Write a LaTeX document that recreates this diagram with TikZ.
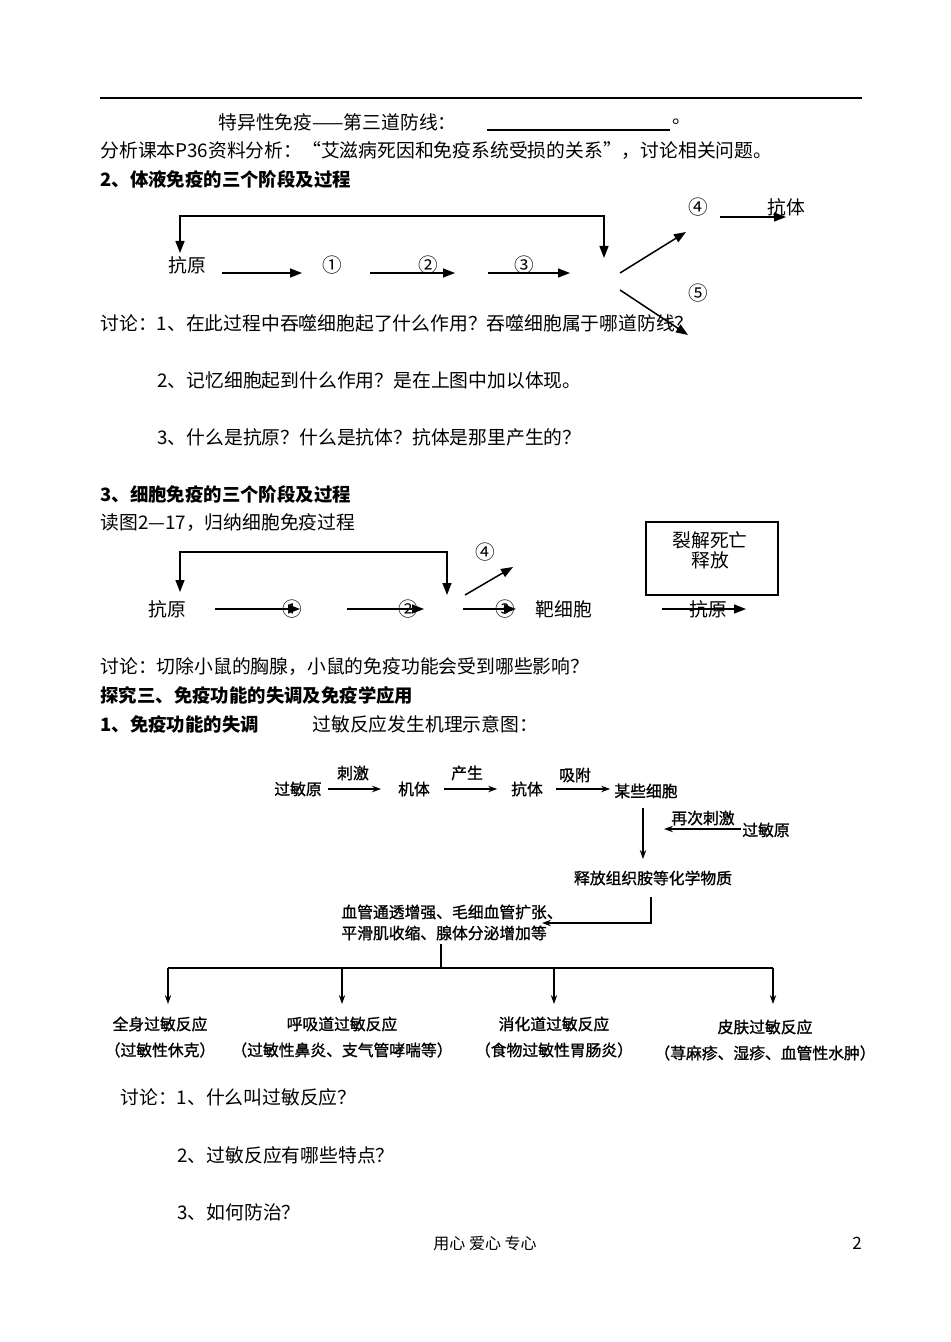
\documentclass[tikz,border=0pt]{standalone}
\usepackage{fontspec}
\setmainfont{Noto Sans CJK SC}
\newfontfamily\alfont[RawFeature={embolden=1.2}]{Noto Sans CJK SC}
\usetikzlibrary{arrows.meta}
\begin{document}
\begin{tikzpicture}[x=0.5pt,y=-0.5pt,
  body/.style={font=\fontsize{9.4}{11}\selectfont, inner sep=0pt, anchor=west},
  bodyc/.style={font=\fontsize{9.8}{11}\selectfont, inner sep=0pt},
  head/.style={font=\fontsize{9.2}{11}\selectfont\bfseries, inner sep=0pt, anchor=west},
  ar/.style={line width=0.75pt, -{Triangle[length=6pt,width=4.5pt]}},
  arb/.style={line width=0.75pt, {Triangle[length=6pt,width=4.5pt]}-{Triangle[length=6pt,width=4.5pt]}},
  al/.style={font=\alfont\fontsize{7.9}{10}\selectfont, inner sep=0pt},
  aar/.style={line width=0.65pt, -{Stealth[length=4.5pt,width=3.2pt]}},
  aln/.style={line width=0.65pt}]
\path[use as bounding box, fill=white] (0,0) rectangle (950,1342);

% top
\draw[line width=0.6pt] (100,98) -- (862,98);
\node[body] (t1) at (218,122) {特异性免疫——第三道防线：};
\coordinate (u1) at (487,130); \coordinate (u2) at (670,130);
\draw[line width=0.6pt] (u1) -- (u2);
\node[body] (t1b) at (672,122) {。};
\node[body] (t2) at (100,151) {分析课本P36资料分析：“艾滋病死因和免疫系统受损的关系”，讨论相关问题。};
\node[head] (h2) at (100,179) {2、体液免疫的三个阶段及过程};

% humoral diagram
\coordinate (hb1) at (180,253); \coordinate (hb2) at (180,216);
\coordinate (hb3) at (604,216); \coordinate (hb4) at (604,258);
\draw[arb] (hb1) -- (hb2) -- (hb3) -- (hb4);
\node[body] (hk) at (168,265) {抗原};
\node[bodyc] (h1) at (332,265) {①};
\node[bodyc] (h2n) at (428,265) {②};
\node[bodyc] (h3) at (524,265) {③};
\coordinate (ha1) at (222,273); \coordinate (ha1e) at (302,273);
\coordinate (ha2) at (370,273); \coordinate (ha2e) at (455,273);
\coordinate (ha3) at (488,273); \coordinate (ha3e) at (570,273);
\draw[ar] (ha1) -- (ha1e);
\draw[ar] (ha2) -- (ha2e);
\draw[ar] (ha3) -- (ha3e);
\coordinate (hd1) at (620,273); \coordinate (hd1e) at (686,232);
\coordinate (hd2) at (620,290); \coordinate (hd2e) at (688,335);
\draw[ar] (hd1) -- (hd1e);
\draw[ar] (hd2) -- (hd2e);
\node[bodyc] (h4) at (698,207) {④};
\node[body] (hkt) at (767,207) {抗体};
\coordinate (ha4) at (720,217); \coordinate (ha4e) at (786,217);
\draw[ar] (ha4) -- (ha4e);
\node[bodyc] (h5) at (698,293) {⑤};

\node[body] (d1) at (100,323) {讨论：1、在此过程中吞噬细胞起了什么作用？吞噬细胞属于哪道防线？};
\node[body] (d2) at (157,380) {2、记忆细胞起到什么作用？是在上图中加以体现。};
\node[body] (d3) at (157,437) {3、什么是抗原？什么是抗体？抗体是那里产生的？};

\node[head] (h3t) at (100,494) {3、细胞免疫的三个阶段及过程};
\node[body] (r1) at (100,523) {读图2—17，归纳细胞免疫过程};

% cellular diagram
\coordinate (cb1) at (180,592); \coordinate (cb2) at (180,552);
\coordinate (cb3) at (447,552); \coordinate (cb4) at (447,595);
\draw[arb] (cb1) -- (cb2) -- (cb3) -- (cb4);
\node[bodyc] (c4) at (485,552) {④};
\coordinate (cd1) at (465,595); \coordinate (cd1e) at (513,567);
\draw[ar] (cd1) -- (cd1e);
\node[body] (ck) at (148,609) {抗原};
\node[bodyc] (c1) at (292,609) {①};
\node[bodyc] (c2) at (408,609) {②};
\node[bodyc] (c3) at (505,609) {③};
\node[body] (cbx) at (535,609) {靶细胞};
\coordinate (ca1) at (215,609); \coordinate (ca1e) at (300,609);
\coordinate (ca2) at (347,609); \coordinate (ca2e) at (424,609);
\coordinate (ca3) at (463,609); \coordinate (ca3e) at (516,609);
\draw[ar] (ca1) -- (ca1e);
\draw[ar] (ca2) -- (ca2e);
\draw[ar] (ca3) -- (ca3e);
\node[draw, line width=0.6pt, minimum width=66pt, minimum height=36.5pt, inner sep=0pt] (box) at (712,558.5) {};
\node[bodyc, font=\fontsize{9.4}{11}\selectfont] (bx1) at (710,540) {裂解死亡};
\node[bodyc, font=\fontsize{9.4}{11}\selectfont] (bx2) at (710,560) {释放};
\node[bodyc, font=\fontsize{9.4}{11}\selectfont] (ck2) at (708,609) {抗原};
\coordinate (ca4) at (662,609); \coordinate (ca4e) at (746,609);
\draw[ar] (ca4) -- (ca4e);

\node[body] (d4) at (100,667) {讨论：切除小鼠的胸腺，小鼠的免疫功能会受到哪些影响？};
\node[head] (h4t) at (100,695) {探究三、免疫功能的失调及免疫学应用};
\node[head] (h5t) at (100,724) {1、免疫功能的失调};
\node[body] (h5b) at (312,724) {过敏反应发生机理示意图：};

% allergy diagram
\node[al] (g1) at (298,789) {过敏原};
\node[al] (jt) at (414,789) {机体};
\node[al] (kt) at (527,789) {抗体};
\node[al] (mx) at (646,791) {某些细胞};
\node[al] (l1) at (353,773) {刺激};
\node[al] (l2) at (467,773) {产生};
\node[al] (l3) at (575,775) {吸附};
\draw[aar] (g1.east) ++(6,0) coordinate (p1) -- ++(53,0) coordinate (p1e);
\draw[aar] (jt.east) ++(14,0) coordinate (p2) -- ++(53,0) coordinate (p2e);
\draw[aar] (kt.east) ++(13,0) coordinate (p3) -- ++(54,0) coordinate (p3e);
\coordinate (v1) at (643,808); \coordinate (v1e) at (643,859);
\draw[aar] (v1) -- (v1e);
\node[al] (zc) at (703,818) {再次刺激};
\node[al] (g2) at (766,830) {过敏原};
\coordinate (v2) at (741,829); \coordinate (v2e) at (664,829);
\draw[aar] (v2) -- (v2e);
\node[al] (sf) at (653,878) {释放组织胺等化学物质};
\node[al, anchor=west] (xg1) at (341,912) {血管通透增强、毛细血管扩张、};
\node[al, anchor=west] (xg2) at (341,933) {平滑肌收缩、腺体分泌增加等};
\coordinate (v3) at (651,897); \coordinate (v3m) at (651,923); \coordinate (v3e) at (542,923);
\draw[aar] (v3) -- (v3m) -- (v3e);
\coordinate (v4) at (441,944); \coordinate (v4m) at (441,968);
\draw[aln] (v4) -- (v4m);
\coordinate (br1) at (168,968); \coordinate (br2) at (342,968);
\coordinate (br3) at (554,968); \coordinate (br4) at (773,968);
\draw[line width=0.9pt] (br1) -- (br4);
\node[al] (r1a) at (160,1024) {全身过敏反应};
\node[al] (r1b) at (160,1050) {（过敏性休克）};
\node[al] (r2a) at (342,1024) {呼吸道过敏反应};
\node[al] (r2b) at (342,1050) {（过敏性鼻炎、支气管哮喘等）};
\node[al] (r3a) at (554,1024) {消化道过敏反应};
\node[al] (r3b) at (554,1050) {（食物过敏性胃肠炎）};
\node[al] (r4a) at (765,1027) {皮肤过敏反应};
\node[al] (r4b) at (765,1053) {（荨麻疹、湿疹、血管性水肿）};
\draw[aar] (br1) -- (168,1004);
\draw[aar] (br2) -- (342,1004);
\draw[aar] (br3) -- (554,1004);
\draw[aar] (br4) -- (773,1004);

\node[body] (d5) at (120,1097) {讨论：1、什么叫过敏反应？};
\node[body] (d6) at (177,1155) {2、过敏反应有哪些特点？};
\node[body] (d7) at (177,1212) {3、如何防治？};

\node[font=\fontsize{8}{10}\selectfont, inner sep=0pt] (ft) at (485,1243) {用心 爱心 专心};
\node[font=\fontsize{8.5}{10}\selectfont, inner sep=0pt] (pg) at (857,1243) {2};
\end{tikzpicture}
\end{document}
